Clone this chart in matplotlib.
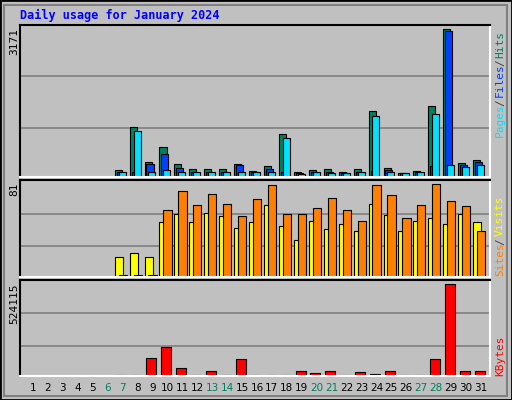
import numpy as np
import matplotlib.pyplot as plt
from matplotlib.patches import Rectangle

days = list(range(1, 32))
weekends = [6, 7, 13, 14, 20, 21, 27, 28]

hits = [0, 0, 0, 0, 0, 0, 143, 1061, 330, 638, 272, 179, 179, 179, 287, 136,
        229, 911, 115, 158, 179, 115, 179, 1405, 200, 93, 136, 1513, 3171, 308, 373]
files = [0, 0, 0, 0, 0, 0, 100, 100, 272, 488, 200, 100, 115, 100, 251, 100,
         165, 115, 86, 100, 115, 86, 100, 136, 158, 86, 100, 229, 3126, 251, 330]
pages = [0, 0, 0, 0, 0, 0, 100, 975, 115, 158, 115, 115, 100, 115, 100, 100,
         115, 825, 57, 100, 79, 79, 115, 1298, 100, 79, 100, 1341, 265, 222, 251]
visits = [0, 0, 0, 0, 0, 0, 17, 21, 17, 48, 55, 48, 56, 53, 43, 48,
          63, 44, 32, 49, 42, 46, 40, 64, 54, 40, 49, 51, 46, 55, 48]
sites = [0, 0, 0, 0, 0, 0, 2, 2, 2, 58, 75, 63, 72, 64, 53, 68,
         80, 55, 55, 60, 69, 58, 49, 80, 71, 51, 63, 81, 66, 62, 40]
kbytes = [0, 0, 0, 0, 0, 0, 7600, 7600, 105000, 168000, 48000, 7600, 30600, 7600,
          99500, 7600, 7600, 7600, 30600, 19000, 30600, 7600, 25000, 13000, 30600,
          7600, 7600, 94000, 524115, 30600, 30600]

C_HITS, C_FILES, C_PAGES = '#008060', '#0040ff', '#00e0ff'
C_VISITS, C_SITES, C_KB = '#ffff00', '#ff8000', '#ff0000'
BG = '#c0c0c0'

W, H = 512, 400
fig = plt.figure(figsize=(W / 100, H / 100), dpi=100, facecolor=BG)

# bevel frame
fig.patches.append(Rectangle((0, 0), 1, 1, transform=fig.transFigure, fill=False,
                             edgecolor='black', lw=2))
fig.patches.append(Rectangle((4 / W, 4 / H), 1 - 9 / W, 1 - 9 / H, transform=fig.transFigure,
                             fill=False, edgecolor='#808080', lw=1.5))

x = np.array(days)


def panel(top, bottom, ymax, scale_label):
    ax = fig.add_axes([20 / W, 1 - bottom / H, 470 / W, (bottom - top) / H])
    ax.set_facecolor(BG)
    ax.set_xlim(0.13, 31.6)
    ax.set_ylim(0, ymax * (bottom - top) / (bottom - top - 4))
    for f in (0.33, 0.68):
        ax.axhline(ymax * f, color='#808080', lw=1.2, zorder=0)
    ax.set_xticks([])
    ax.set_yticks([])
    ax.spines['top'].set_color('black')
    ax.spines['left'].set_color('black')
    ax.spines['bottom'].set_color('white')
    ax.spines['right'].set_color('white')
    for s in ax.spines.values():
        s.set_linewidth(1.5)
    fig.text(14 / W, 1 - (top + 3) / H, scale_label, rotation=90, ha='center', va='top',
             fontsize=8, family='DejaVu Sans Mono')
    return ax


def side_label(parts, y_bottom):
    y = y_bottom
    for txt, col in parts:
        fig.text(500 / W, 1 - y / H, txt, rotation=90, ha='center', va='bottom',
                 color=col, fontsize=8, family='DejaVu Sans Mono')
        y -= len(txt) * 5.6 + 3


ax1 = panel(25, 177, 3171, '3171')
ax1.bar(x - 0.53, hits, width=0.47, align='edge', color=C_HITS, edgecolor='black', lw=0.8)
ax1.bar(x - 0.40, files, width=0.47, align='edge', color=C_FILES, edgecolor='black', lw=0.8)
ax1.bar(x - 0.27, pages, width=0.47, align='edge', color=C_PAGES, edgecolor='black', lw=0.8)
side_label([('Pages', C_PAGES), ('/', '#404040'), ('Files', C_FILES),
            ('/', '#404040'), ('Hits', C_HITS)], 137)

ax2 = panel(180, 277, 81, '81')
ax2.bar(x - 0.53, visits, width=0.55, align='edge', color=C_VISITS, edgecolor='black', lw=0.8)
ax2.bar(x - 0.27, sites, width=0.55, align='edge', color=C_SITES, edgecolor='black', lw=0.8)
side_label([('Sites', C_SITES), ('/', '#404040'), ('Visits', C_VISITS)], 276)

ax3 = panel(280, 376, 524115, '524115')
ax3.bar(x - 0.42, kbytes, width=0.67, align='edge', color=C_KB, edgecolor='black', lw=0.8)
side_label([('KBytes', C_KB)], 376)

for d in days:
    xp = (33 + (d - 1) * 14.93) / W
    fig.text(xp, 1 - 388 / H, str(d), ha='center', va='center', fontsize=7.5,
             color='#008060' if d in weekends else 'black')

fig.text(20 / W, 1 - 15 / H, 'Daily usage for January 2024', ha='left', va='center',
         color='#0000ff', fontsize=8.5, fontweight='bold', family='DejaVu Sans Mono')

fig.savefig('out.png', dpi=100, facecolor=BG)
